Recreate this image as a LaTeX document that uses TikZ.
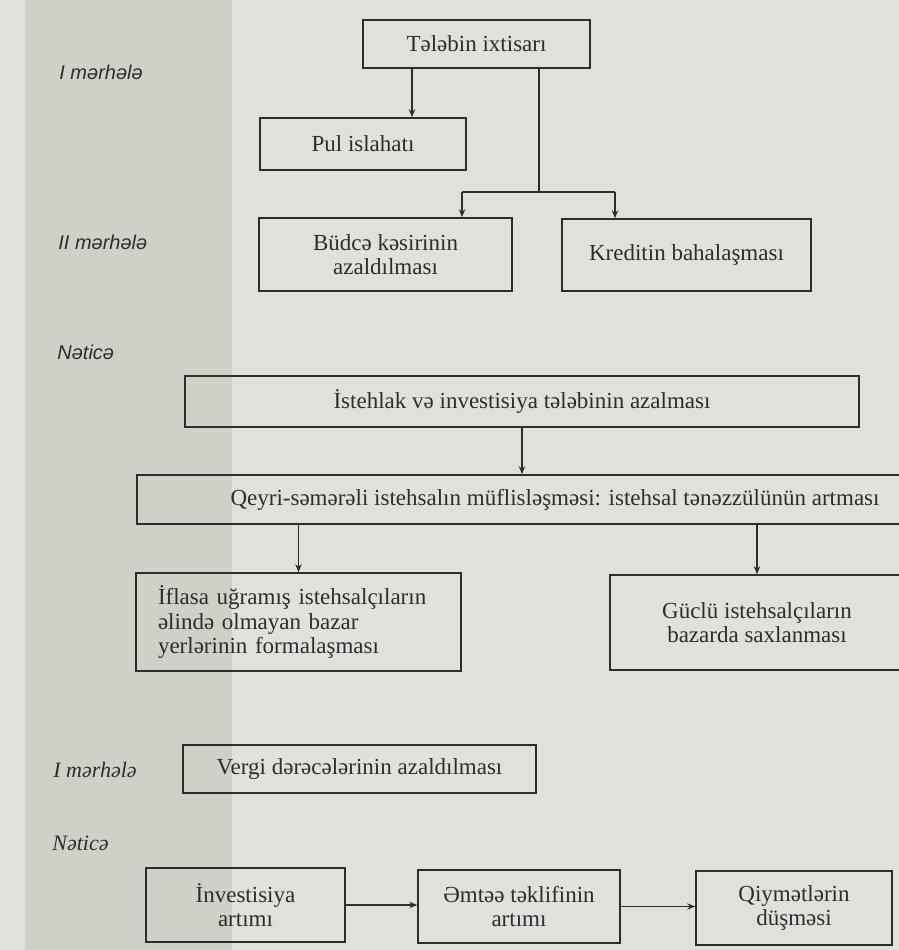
\documentclass[tikz,border=0pt]{standalone}
\usepackage{fontspec}
\setmainfont{Liberation Serif}
\newfontfamily\sanslabel{Liberation Sans}
\usetikzlibrary{arrows.meta}

\definecolor{paper}{RGB}{224,224,221}
\definecolor{band}{RGB}{208,208,200}
\definecolor{ink}{RGB}{45,45,45}

\tikzset{
  box/.style={draw=ink, line width=0.8pt, inner sep=0pt, align=center,
    font=\fontsize{11.5}{12.3}\selectfont, text=ink},
  stage/.style={anchor=west, inner sep=0pt, font=\sanslabel\itshape\fontsize{10}{12}\selectfont, text=ink},
  stageser/.style={anchor=west, inner sep=0pt, font=\itshape\fontsize{11}{13}\selectfont, text=ink},
  link/.style={draw=ink, line width=0.8pt},
  arr/.style={link, -{Stealth[length=4pt,width=3.2pt]}}
}

\begin{document}
\begin{tikzpicture}[x=0.5pt, y=-0.5pt]
% Page background
\fill[paper] (0,0) rectangle (899,950);
\fill[band] (25,0) rectangle (232,950);
\useasboundingbox (0,0) rectangle (899,950);

% Stage labels
\node[stage] (st1) at (59,72) {I mərhələ};
\node[stage] (st2) at (58,242) {II mərhələ};
\node[stage] (res1) at (57,352) {Nəticə};
\node[stageser] (st3) at (53,770) {I mərhələ};
\node[stageser] (res2) at (52,843) {Nəticə};

% First block
\node[box, minimum width=113.5pt, minimum height=24pt] (talab) at (476.5,44) {Tələbin ixtisarı};
\node[box, minimum width=103pt, minimum height=26pt] (pul) at (363,144) {Pul islahatı};
\node[box, minimum width=126.5pt, minimum height=36.5pt] (budce) at (385.5,254.5) {Büdcə kəsirinin\\azaldılması};
\node[box, minimum width=124.5pt, minimum height=36pt] (kredit) at (686.5,255) {Kreditin bahalaşması};

\coordinate (c1) at (412,0);
\coordinate (split) at (539,192);
\coordinate (jl) at (462,192);
\coordinate (jr) at (615,192);

\draw[arr] (talab.south -| c1) -- (pul.north -| c1);
\draw[link] (talab.south -| split) -- (split);
\draw[link] (jl) -- (jr);
\draw[arr] (jl) -- (budce.north -| jl);
\draw[arr] (jr) -- (kredit.north -| jr);

% Result block
\node[box, minimum width=337pt, minimum height=25.5pt] (istehlak) at (522,401.5) {İstehlak və investisiya tələbinin azalması};
\node[box, minimum width=418pt, minimum height=24.5pt] (qeyri) at (555,499.5) {Qeyri-səmərəli istehsalın müflisləşməsi: istehsal tənəzzülünün artması};
\node[box, minimum width=162.5pt, minimum height=49pt, text width=140.5pt, align=left] (iflas) at (298.5,622) {İflasa uğramış istehsalçıların\\əlində olmayan bazar\\yerlərinin formalaşması};
\node[box, minimum width=147pt, minimum height=47.5pt] (guclu) at (757,622.5) {Güclü istehsalçıların\\bazarda saxlanması};

\draw[arr] (istehlak.south) -- (qeyri.north -| istehlak.south);
\draw[arr] (qeyri.south -| iflas.north) -- (iflas.north);
\draw[arr] (qeyri.south -| guclu.north) -- (guclu.north);

% Tax block
\node[box, minimum width=176.5pt, minimum height=24pt] (vergi) at (359.5,769) {Vergi dərəcələrinin azaldılması};
\node[box, minimum width=99.5pt, minimum height=37pt] (invest) at (245.5,905) {İnvestisiya\\artımı};
\node[box, minimum width=101pt, minimum height=36.5pt] (emtee) at (519,906.5) {Əmtəə təklifinin\\artımı};
\node[box, minimum width=98pt, minimum height=37pt] (qiymet) at (794,908) {Qiymətlərin\\düşməsi};

\draw[arr] (invest.east) -- (emtee.west |- invest.east);
\draw[arr] (emtee.east) -- (qiymet.west |- emtee.east);
\end{tikzpicture}
\end{document}
